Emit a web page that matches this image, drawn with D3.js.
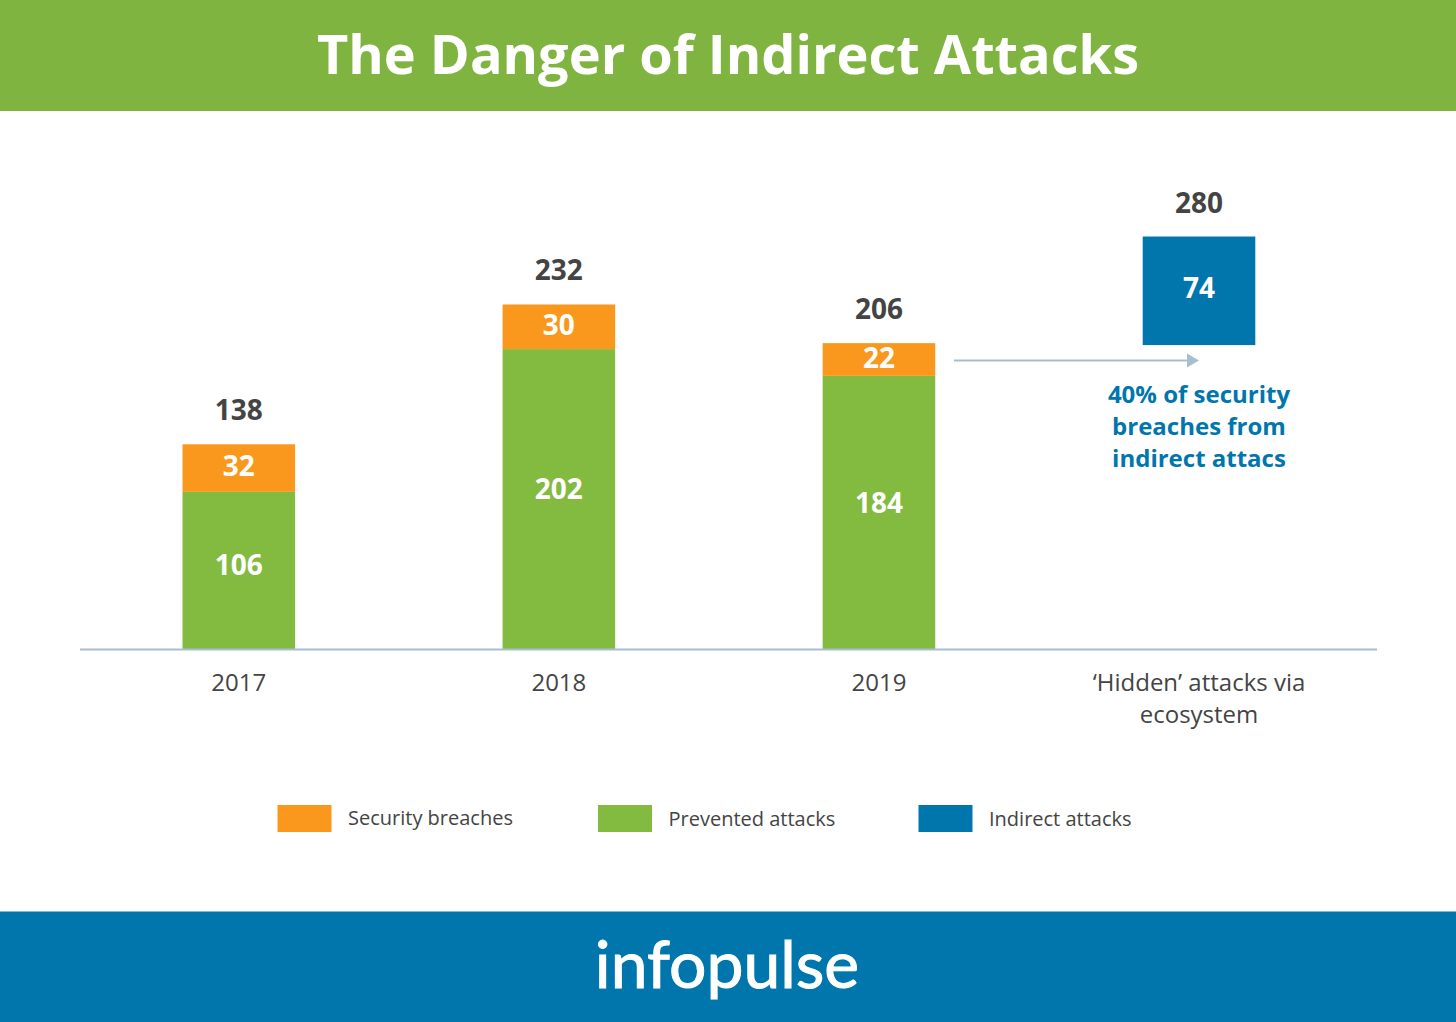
<!DOCTYPE html>
<html>
<head>
<meta charset="utf-8">
<script src="https://cdn.jsdelivr.net/npm/d3@7/dist/d3.min.js"></script>
<style>
  html, body { margin: 0; padding: 0; background: #fff; }
  svg { display: block; font-family: "Open Sans", sans-serif; }
</style>
</head>
<body>
<svg id="chart" width="1456" height="1022"></svg>
<script>
const categories = ['2017', '2018', '2019', 'hidden'];
const barYears = ['2017', '2018', '2019'];
const prevented = [106, 202, 184];
const breaches = [32, 30, 22];
const totals = [138, 232, 206];
// the box sits a little lower in the picture than 206..280 would put it
const indirectBottom = 204.7;
const indirectTop = 277.7;
const indirect = 74;
const indirectTotal = 280;
const tickLabels = [['2017'], ['2018'], ['2019'], ['‘Hidden’ attacks via', 'ecosystem']];
const noteLines = ['40% of security', 'breaches from', 'indirect attacs'];
const legendItems = ['Security breaches', 'Prevented attacks', 'Indirect attacks'];

const GREEN = '#82bb3f', ORANGE = '#fa981d', BLUE = '#0076ad';
const DARK = '#444444', AXIS = '#a9bdd0';

const svg = d3.select('#chart');

// header and footer bands
svg.append('rect').attr('width', 1456).attr('height', 111).attr('fill', '#80b440');
svg.append('text').attr('x', 728).attr('y', 74).attr('text-anchor', 'middle')
  .attr('fill', '#fff').attr('font-size', 54.1).attr('font-weight', 700)
  .text('The Danger of Indirect Attacks');

svg.append('rect').attr('y', 911.5).attr('width', 1456).attr('height', 110.5).attr('fill', BLUE);
svg.append('text').attr('x', 727).attr('y', 988).attr('text-anchor', 'middle')
  .attr('fill', '#fff').attr('stroke', '#fff').attr('stroke-width', 1)
  .attr('font-size', 66).attr('font-family', 'Lato, sans-serif')
  .text('infopulse');

const x = d3.scalePoint().domain(categories).range([238.8, 1199]);
const y = d3.scaleLinear().domain([0, indirectTotal]).range([649.5, 233.1]);
const barW = 112.6;

// stacked bars
const rows = barYears.map((year, i) => ({ year, prevented: prevented[i], breaches: breaches[i], total: totals[i] }));
const stack = d3.stack().keys(['prevented', 'breaches'])(rows);
const colors = { prevented: GREEN, breaches: ORANGE };

svg.append('g').selectAll('g').data(stack).join('g')
  .attr('fill', d => colors[d.key])
  .selectAll('rect').data(d => d).join('rect')
  .attr('x', d => x(d.data.year) - barW / 2)
  .attr('width', barW)
  .attr('y', d => y(d[1]))
  .attr('height', d => y(d[0]) - y(d[1]));

// green labels sit slightly above the middle of their segment
const labelAt = { prevented: 0.535, breaches: 0.55 };
const segLabels = svg.append('g').attr('fill', '#fff').attr('font-size', 28).attr('font-weight', 700).attr('text-anchor', 'middle');
stack.forEach(s => {
  segLabels.selectAll(null).data(s).join('text')
    .attr('x', d => x(d.data.year))
    .attr('y', d => y(d[0] + (d[1] - d[0]) * labelAt[s.key]) + 10)
    .text(d => d[1] - d[0]);
});

svg.append('g').attr('fill', DARK).attr('font-size', 28).attr('font-weight', 700).attr('text-anchor', 'middle')
  .selectAll('text').data(rows).join('text')
  .attr('x', d => x(d.year))
  .attr('y', d => y(d.total) - 24)
  .text(d => d.total);

// floating indirect bar
svg.append('rect')
  .attr('x', x('hidden') - barW / 2).attr('width', barW)
  .attr('y', y(indirectTop)).attr('height', y(indirectBottom) - y(indirectTop))
  .attr('fill', BLUE);
svg.append('text').attr('x', x('hidden')).attr('y', 297.5).attr('text-anchor', 'middle')
  .attr('fill', '#fff').attr('font-size', 28).attr('font-weight', 700).text(indirect);
svg.append('text').attr('x', x('hidden')).attr('y', y(indirectTop) - 23.5).attr('text-anchor', 'middle')
  .attr('fill', DARK).attr('font-size', 28).attr('font-weight', 700).text(indirectTotal);

// arrow from 2019 to the indirect bar
svg.append('line').attr('x1', 954).attr('x2', 1190).attr('y1', 360.5).attr('y2', 360.5)
  .attr('stroke', AXIS).attr('stroke-width', 2);
svg.append('path').attr('d', 'M1187,353.5L1199,360.5L1187,367.5Z').attr('fill', AXIS);

svg.append('g').attr('fill', BLUE).attr('font-size', 24).attr('font-weight', 700).attr('text-anchor', 'middle')
  .selectAll('text').data(noteLines).join('text')
  .attr('x', x('hidden'))
  .attr('y', (d, i) => 403 + i * 32)
  .text(d => d);

// baseline and category labels
svg.append('line').attr('x1', 80).attr('x2', 1377).attr('y1', 649.5).attr('y2', 649.5)
  .attr('stroke', AXIS).attr('stroke-width', 2);

const ticks = svg.append('g').attr('fill', DARK).attr('font-size', 24).attr('text-anchor', 'middle');
categories.forEach((c, i) => {
  ticks.selectAll(null).data(tickLabels[i]).join('text')
    .attr('x', x(c))
    .attr('y', (d, j) => 691 + j * 32)
    .text(d => d);
});

// legend
const legendX = d3.scalePoint().domain(legendItems).range([277.5, 918.5]);
const legendColors = d3.scaleOrdinal().domain(legendItems).range([ORANGE, GREEN, BLUE]);
const legend = svg.append('g').selectAll('g').data(legendItems).join('g')
  .attr('transform', d => `translate(${legendX(d)},805)`);
legend.append('rect').attr('width', 54).attr('height', 27).attr('fill', d => legendColors(d));
legend.append('text').attr('x', 70.5).attr('y', (d, i) => i === 0 ? 20 : 21)
  .attr('fill', DARK).attr('font-size', 20).text(d => d);
</script>
</body>
</html>
